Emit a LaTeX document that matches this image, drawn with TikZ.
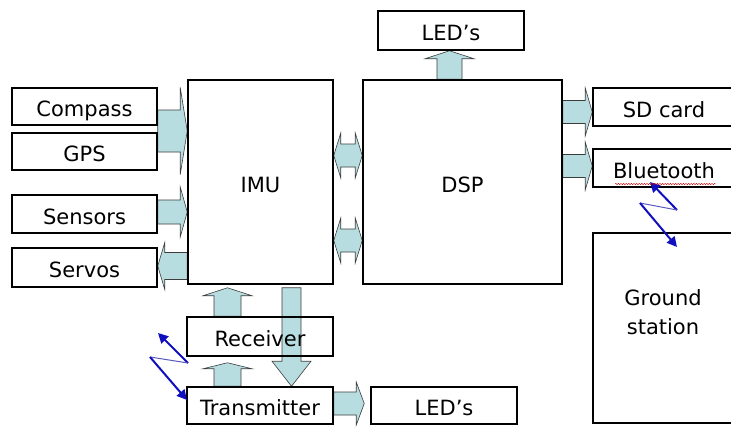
\documentclass[tikz,border=0pt]{standalone}
\usepackage{fontspec}
\setmainfont{DejaVu Sans}
\usetikzlibrary{calc,backgrounds,decorations.pathmorphing,arrows.meta}
\definecolor{arrowblue}{RGB}{183,221,224}
\definecolor{edgegray}{RGB}{60,60,60}
\definecolor{wireblue}{RGB}{15,15,190}
\definecolor{thinblue}{RGB}{90,90,190}
% horizontal block arrow: tail anchor, tip anchor, image y, shaft half, head half, signed head length (+ = right)
\newcommand{\hblock}[6]{%
 \path[blockarrow] let \p1=(#1), \p2=(#2), \p3=(0,#3) in
 (\x1,{\y3+#4pt}) -- ({\x2-(#6pt)},{\y3+#4pt}) -- ({\x2-(#6pt)},{\y3+#5pt}) -- (\x2,\y3)
 -- ({\x2-(#6pt)},{\y3-#5pt}) -- ({\x2-(#6pt)},{\y3-#4pt}) -- (\x1,{\y3-#4pt}) -- cycle;}
% vertical block arrow: tail anchor, tip anchor, image x, shaft half, head half, signed head length (+ = up)
\newcommand{\vblock}[6]{%
 \path[blockarrow] let \p1=(#1), \p2=(#2), \p3=(#3,0) in
 ({\x3-#4pt},\y1) -- ({\x3-#4pt},{\y2-(#6pt)}) -- ({\x3-#5pt},{\y2-(#6pt)}) -- (\x3,\y2)
 -- ({\x3+#5pt},{\y2-(#6pt)}) -- ({\x3+#4pt},{\y2-(#6pt)}) -- ({\x3+#4pt},\y1) -- cycle;}
% double horizontal block arrow: left anchor, right anchor, image y, shaft half, head half, head length
\newcommand{\dblock}[6]{%
 \path[blockarrow] let \p1=(#1), \p2=(#2), \p3=(0,#3) in
 (\x1,\y3) -- ({\x1+#6pt},{\y3+#5pt}) -- ({\x1+#6pt},{\y3+#4pt}) -- ({\x2-#6pt},{\y3+#4pt})
 -- ({\x2-#6pt},{\y3+#5pt}) -- (\x2,\y3) -- ({\x2-#6pt},{\y3-#5pt}) -- ({\x2-#6pt},{\y3-#4pt})
 -- ({\x1+#6pt},{\y3-#4pt}) -- ({\x1+#6pt},{\y3-#5pt}) -- cycle;}
\begin{document}
\begin{tikzpicture}[x=1pt,y=-1pt,
  blk/.style={draw=black, line width=1.5pt, inner sep=0pt, font=\fontsize{21}{26}\selectfont,
              text height=20pt, text depth=0pt},
  blockarrow/.style={fill=arrowblue, draw=edgegray, line width=0.6pt, line join=miter},
  wire/.style={wireblue, line width=2pt, -{Triangle[length=10pt,width=10pt]}},
  wirethin/.style={thinblue, line width=1pt},
  squiggle/.style={red!80!black, line width=0.4pt, decorate,
                   decoration={snake, amplitude=0.7pt, segment length=2.6pt}}]
\useasboundingbox (0,0) rectangle (731,426);
\clip (0,0) rectangle (731,426);
% boxes
\node[blk, minimum width=145pt, minimum height=37pt] (compass) at (84.5,106.5) {Compass};
\node[blk, minimum width=145pt, minimum height=37pt] (gps) at (84.5,151.5) {GPS};
\node[blk, minimum width=145pt, minimum height=38pt] (sensors) at (84.5,214) {Sensors};
\node[blk, minimum width=145pt, minimum height=39pt] (servos) at (84.5,267.5) {Servos};
\node[blk, minimum width=145pt, minimum height=204pt] (imu) at (260.5,182) {IMU};
\node[blk, minimum width=199pt, minimum height=204pt] (dsp) at (462.5,182) {DSP};
\node[blk, minimum width=146pt, minimum height=39pt] (ledtop) at (451,30.5) {LED's};
\node[blk, minimum width=142pt, minimum height=38pt] (sd) at (664,107) {SD card};
\node[blk, minimum width=142pt, minimum height=38pt] (bt) at (664,168) {Bluetooth};
\node[blk, minimum width=142pt, minimum height=190pt] (ground) at (664,328) {};
\node[font=\fontsize{21}{29}\selectfont, align=center, inner sep=0pt] (groundtxt) at (663,312) {Ground\\station};
\node[blk, minimum width=146pt, minimum height=39pt] (receiver) at (260,336.5) {Receiver};
\node[blk, minimum width=146pt, minimum height=37pt] (transmitter) at (260,405.5) {Transmitter};
\node[blk, minimum width=146pt, minimum height=37pt] (ledbot) at (444,405.5) {LED's};
% block arrows behind the boxes
\begin{scope}[on background layer]
\hblock{compass.east}{imu.west}{131}{21}{43.5}{7}
\hblock{sensors.east}{imu.west}{212}{12}{25}{7}
\hblock{imu.west}{servos.east}{266}{13.5}{23.5}{-7}
\dblock{imu.east}{dsp.west}{155.5}{11.5}{22.5}{7}
\dblock{imu.east}{dsp.west}{240.5}{11.5}{22.5}{7}
\hblock{dsp.east}{sd.west}{112}{11.5}{24}{7}
\hblock{dsp.east}{bt.west}{166}{11.5}{24}{7}
\hblock{transmitter.east}{$(ledbot.west)+(-6,0)$}{403.5}{11.5}{21.5}{8}
\vblock{dsp.north}{ledtop.south}{449.5}{12.5}{24.5}{8}
\vblock{receiver.north}{$(imu.south)+(0,3)$}{227.5}{13.5}{24.5}{8}
\vblock{transmitter.north}{$(receiver.south)+(0,6)$}{227.5}{13.5}{24.5}{6}
\vblock{$(imu.south)+(0,3)$}{transmitter.north}{291.5}{9.5}{19.5}{-25}
\end{scope}
% wireless links
\coordinate (la) at (158,333);
\coordinate (lb) at (188,363);
\coordinate (lc) at (150,357);
\coordinate (ld) at (187,400);
\draw[wire] (lb) -- (la);
\draw[wirethin] (lb) -- (lc);
\draw[wire] (lc) -- (ld);
\coordinate (ra) at (650,182);
\coordinate (rb) at (677,210);
\coordinate (rc) at (640,203);
\coordinate (rd) at (677,247);
\draw[wire] (rb) -- (ra);
\draw[wirethin] (rb) -- (rc);
\draw[wire] (rc) -- (rd);
% spell-check underline
\coordinate (sq1) at (615,184);
\coordinate (sq2) at (716,184);
\draw[squiggle] (sq1) -- (sq2);
\end{tikzpicture}
\end{document}
